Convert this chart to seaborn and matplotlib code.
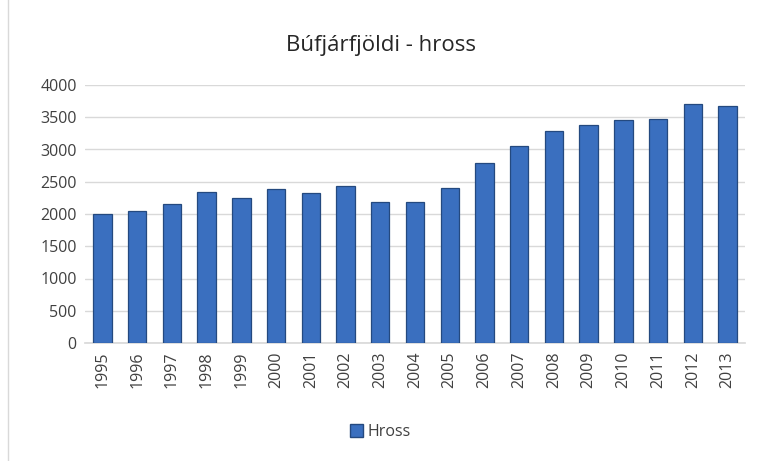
import seaborn as sns
import matplotlib.pyplot as plt
import pandas as pd
from matplotlib.patches import Rectangle, Patch

# Data.
years = [str(y) for y in range(1995, 2014)]
hross = [2005, 2050, 2160, 2335, 2255, 2380, 2318, 2430, 2190, 2190,
         2405, 2790, 3050, 3285, 3385, 3460, 3477, 3700, 3670]

sns.set_theme(style="white")
plt.rcParams['font.family'] = ['Open Sans', 'DejaVu Sans']

df = pd.DataFrame({"Ár": years, "Hross": hross})

fig = plt.figure(figsize=(7.61, 4.61), dpi=100)
ax = fig.add_axes([85 / 761, 1 - 343 / 461, 660 / 761, 258 / 461])

sns.barplot(data=df, x="Ár", y="Hross", color="#3a6fbf", width=0.53,
            edgecolor="#24497f", linewidth=0.9, saturation=1, ax=ax, zorder=3)

ax.set_ylim(0, 4000)
ax.set_yticks(range(0, 4001, 500))
ax.yaxis.grid(True, color="#d9d9d9", linewidth=1, zorder=0)
ax.set_xlabel(None)
ax.set_ylabel(None)
for side in ["top", "left", "right"]:
    ax.spines[side].set_visible(False)
ax.spines["bottom"].set_color("#d9d9d9")
ax.tick_params(axis="both", length=0, labelsize=11.5, colors="#404040", pad=6)
plt.setp(ax.get_xticklabels(), rotation=90)

fig.text(0.5, 1 - 45 / 461, "Búfjárfjöldi - hross", ha="center", va="center",
         fontsize=16, color="#262626")

handle = Patch(facecolor="#3a6fbf", edgecolor="#24497f", label="Hross")
fig.legend(handles=[handle], loc="center", bbox_to_anchor=(0.5, 1 - 432 / 461),
           frameon=False, fontsize=11.5, handlelength=0.8, handleheight=0.8,
           handletextpad=0.3, labelcolor="#404040")

# Light frame around chart area.
fig.patches.append(Rectangle((8 / 761, -0.01), 1.0, 1.02, transform=fig.transFigure,
                             fill=False, edgecolor="#d9d9d9", linewidth=1))

fig.savefig("out.png", dpi=100)
